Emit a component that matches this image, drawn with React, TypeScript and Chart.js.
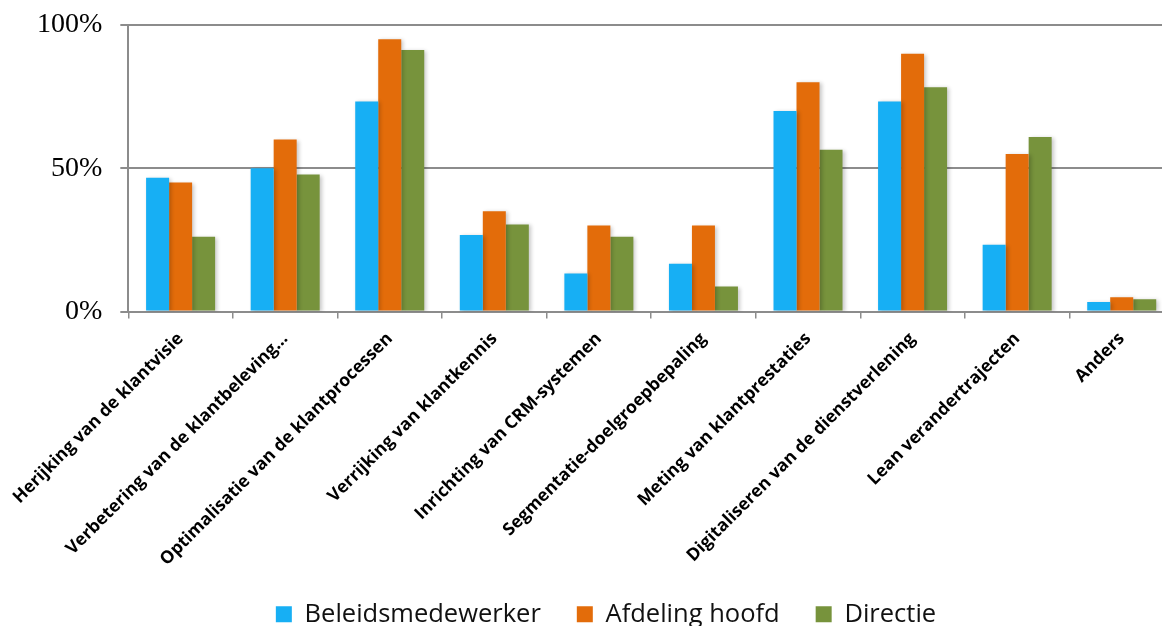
import React, { useEffect, useRef } from "react";
import { Chart, registerables } from "chart.js";

Chart.register(...registerables);

const categories = [
  "Herijking van de klantvisie",
  "Verbetering van de klantbeleving…",
  "Optimalisatie van de klantprocessen",
  "Verrijking van klantkennis",
  "Inrichting van CRM-systemen",
  "Segmentatie-doelgroepbepaling",
  "Meting van klantprestaties",
  "Digitaliseren van de dienstverlening",
  "Lean verandertrajecten",
  "Anders",
];

const beleidsmedewerker = [46.7, 50.0, 73.3, 26.7, 13.3, 16.7, 70.0, 73.3, 23.3, 3.3];
const afdelingHoofd = [45, 60, 95, 35, 30, 30, 80, 90, 55, 5];
const directie = [26.1, 47.8, 91.3, 30.4, 26.1, 8.7, 56.5, 78.3, 60.9, 4.3];

const seriesNames = ["Beleidsmedewerker", "Afdeling hoofd", "Directie"];
const seriesColors = ["#17AFF4", "#E36C0A", "#77933C"];
const yTicks = [0, 50, 100];

const shadowPlugin = {
  id: "barShadow",
  beforeDatasetsDraw(chart: any) {
    const ctx = chart.ctx;
    ctx.save();
    ctx.shadowColor = "rgba(0,0,0,0.22)";
    ctx.shadowBlur = 4;
    ctx.shadowOffsetX = 2;
    ctx.shadowOffsetY = 1;
  },
  afterDatasetsDraw(chart: any) {
    chart.ctx.restore();
  },
};

// nudge the legend so it sits where it does in the reference
const legendShiftPlugin = {
  id: "legendShift",
  afterLayout(chart: any) {
    const l = chart.legend;
    if (l) {
      l.top -= 20;
      l.bottom -= 20;
      l.left += 12;
      l.right += 12;
    }
  },
};

export default function App() {
  const ref = useRef<HTMLCanvasElement | null>(null);

  useEffect(() => {
    if (!ref.current) return;
    const values = [beleidsmedewerker, afdelingHoofd, directie];
    const chart = new Chart(ref.current, {
      type: "bar",
      data: {
        labels: categories,
        datasets: seriesNames.map((name, i) => ({
          label: name,
          data: values[i],
          backgroundColor: seriesColors[i],
          borderWidth: 0,
          categoryPercentage: 0.66,
          barPercentage: 1.0,
        })),
      },
      plugins: [shadowPlugin, legendShiftPlugin],
      options: {
        responsive: false,
        animation: false,
        layout: { padding: { left: 14, top: 25, right: 36, bottom: 0 } },
        plugins: {
          tooltip: { enabled: false },
          legend: {
            position: "bottom",
            labels: {
              boxWidth: 16,
              boxHeight: 16,
              padding: 36,
              color: "#111",
              font: { family: "'Open Sans', sans-serif", size: 25.5 },
            },
          },
        },
        scales: {
          x: {
            offset: true,
            afterFit: (scale: any) => {
              scale.height = 274;
            },
            grid: {
              offset: true,
              drawOnChartArea: false,
              drawTicks: true,
              tickLength: 7,
              color: "#8c8c8c",
              lineWidth: 1.5,
            },
            border: { display: true, color: "#8c8c8c", width: 2 },
            ticks: {
              autoSkip: false,
              minRotation: 45,
              maxRotation: 45,
              padding: 10,
              color: "#000",
              font: { family: "'Open Sans', sans-serif", size: 17.5, weight: "bold" },
            },
          },
          y: {
            min: 0,
            max: 100,
            afterBuildTicks: (scale: any) => {
              scale.ticks = yTicks.map((v) => ({ value: v }));
            },
            afterFit: (scale: any) => {
              scale.paddingTop = 0;
              scale.paddingBottom = 0;
            },
            grid: {
              color: "#8c8c8c",
              lineWidth: 2,
              tickLength: 8,
              drawTicks: true,
            },
            border: { display: true, color: "#8c8c8c", width: 2 },
            ticks: {
              padding: 18,
              color: "#000",
              font: { family: "'Liberation Serif', serif", size: 28 },
              callback: (v: any) => v + "%",
            },
          },
        },
      },
    });
    return () => chart.destroy();
  }, []);

  return (
    <div
      style={{
        position: "fixed",
        left: 0,
        top: 0,
        width: 1162,
        height: 626,
        overflow: "hidden",
        background: "#fff",
      }}
    >
      <canvas ref={ref} width={1210} height={657} style={{ display: "block" }} />
    </div>
  );
}
